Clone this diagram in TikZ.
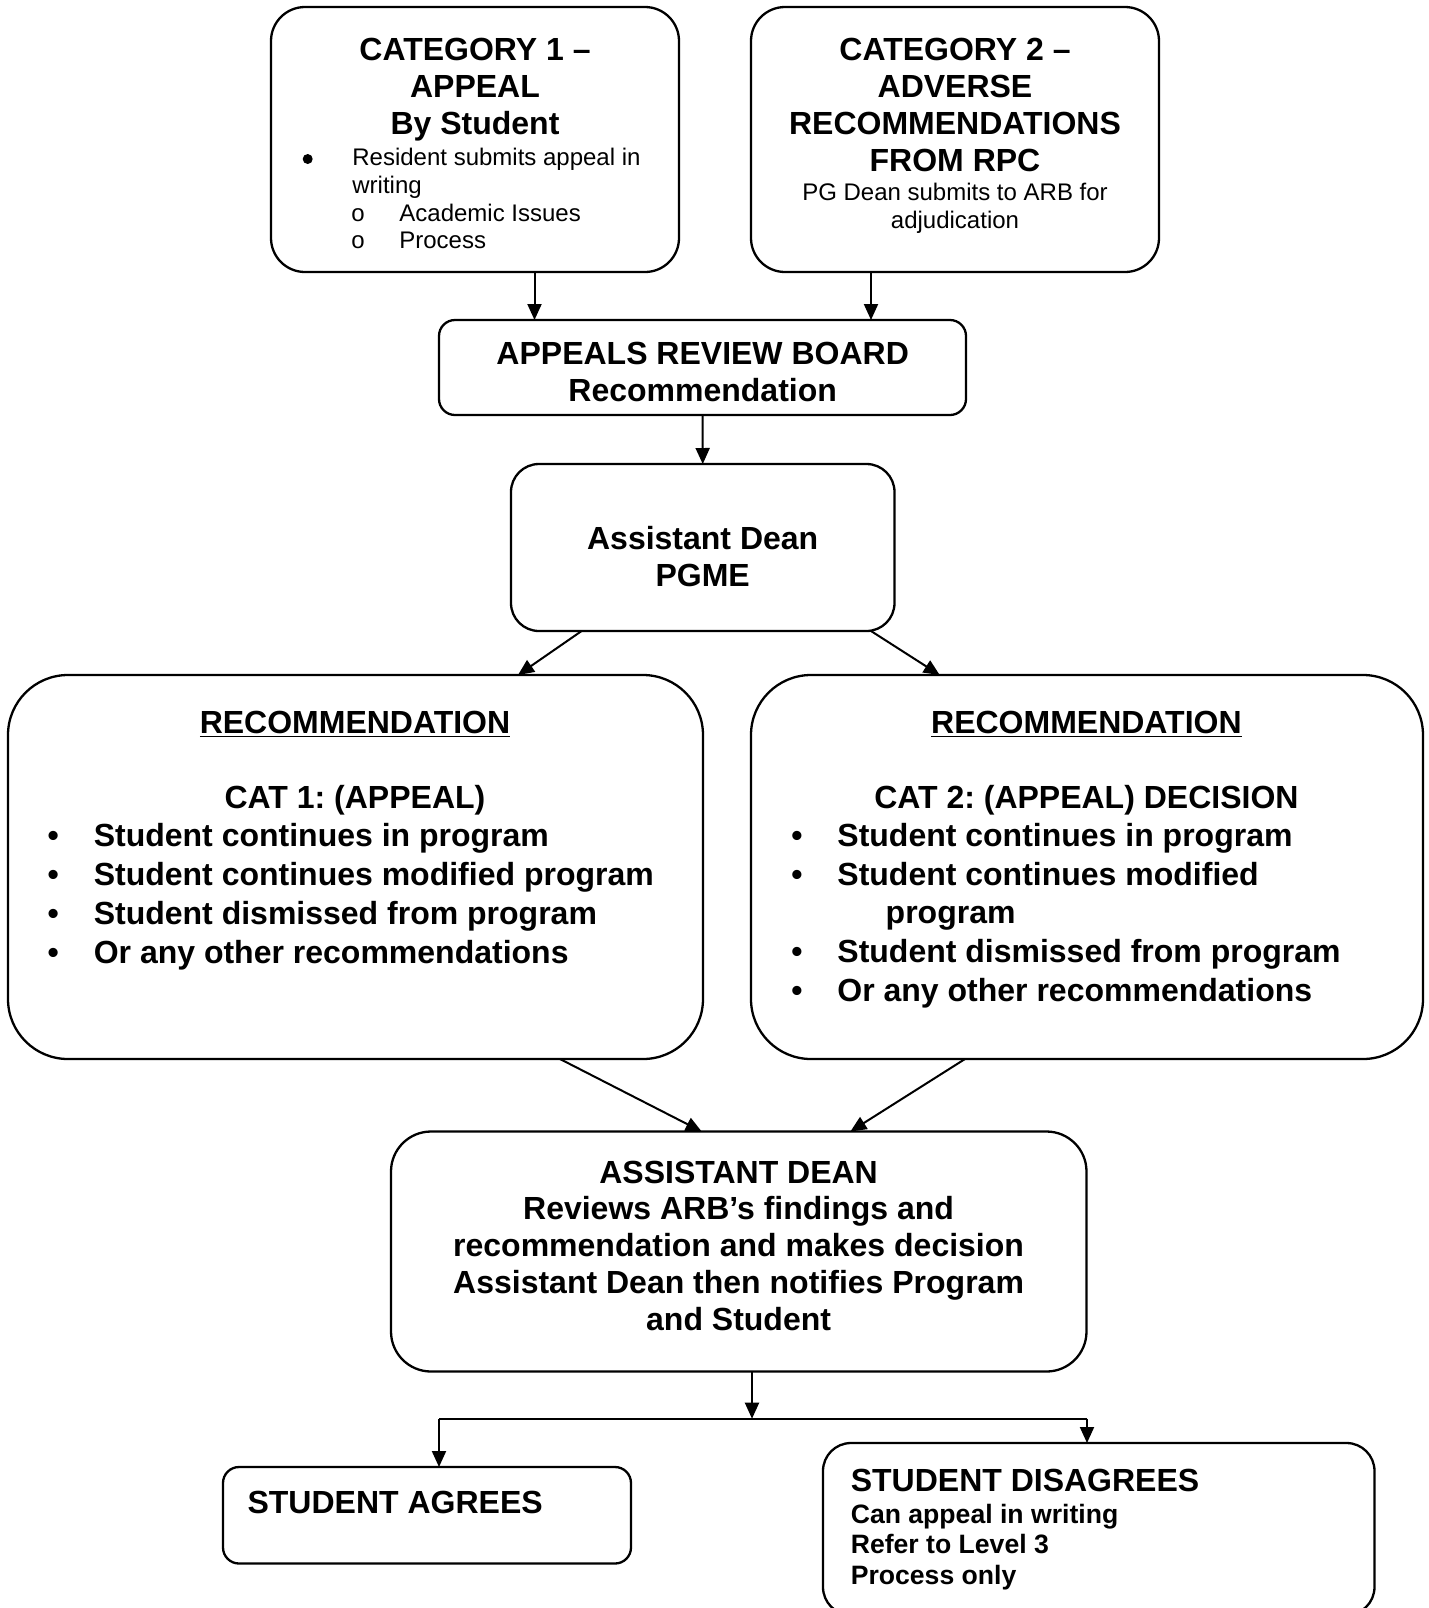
\documentclass[tikz,border=0pt]{standalone}
\usepackage{fontspec}
\setmainfont{Liberation Sans}
\usetikzlibrary{arrows.meta}
\frenchspacing

\begin{document}
\begin{tikzpicture}[x=0.5pt,y=-0.5pt,
  box/.style={draw, line width=1.15pt, inner sep=0pt, outer sep=0pt},
  arr/.style={line width=1pt, -{Triangle[length=8pt,width=7pt]}},
  lnk/.style={line width=1pt},
  big/.style={font=\fontsize{16pt}{18pt}\selectfont\bfseries, inner sep=0pt},
  small/.style={font=\fontsize{12pt}{14pt}\selectfont, inner sep=0pt},
  mid/.style={font=\fontsize{13.3pt}{15pt}\selectfont\bfseries, inner sep=0pt},
  dot/.style={circle, fill, inner sep=0pt, minimum size=5pt},
]
\clip (0,0) rectangle (1429,1608);
\fill[white] (0,0) rectangle (1429,1608);

% ---------- boxes ----------
\node[box, rounded corners=17pt, minimum width=204pt, minimum height=132.5pt] (cat1) at (475,139.5) {};
\node[box, rounded corners=17pt, minimum width=204pt, minimum height=132.5pt] (cat2) at (955,139.5) {};
\node[box, rounded corners=8pt, minimum width=263.5pt, minimum height=47.5pt] (arb) at (702.5,367.5) {};
\node[box, rounded corners=14pt, minimum width=191.75pt, minimum height=83.5pt] (pgme) at (702.75,547.5) {};
\node[box, rounded corners=30pt, minimum width=347.5pt, minimum height=192pt] (recL) at (355.5,867) {};
\node[box, rounded corners=30pt, minimum width=336pt, minimum height=192pt] (recR) at (1087,867) {};
\node[box, rounded corners=20pt, minimum width=347.75pt, minimum height=120pt] (ad) at (738.75,1251.5) {};
\node[box, rounded corners=8pt, minimum width=204pt, minimum height=48.25pt] (agree) at (427,1515.25) {};
\node[box, rounded corners=14pt, minimum width=275.75pt, minimum height=86pt] (disagree) at (1098.75,1529) {};

% ---------- category 1 ----------
\node[big, anchor=base] (c1a) at (475,60.7) {CATEGORY 1 –};
\node[big, anchor=base] (c1b) at (475,97.7) {APPEAL};
\node[big, anchor=base] (c1c) at (475,134.6) {By Student};
\node[dot] (c1d) at (307.7,159) {};
\node[small, anchor=base west] (c1e) at (352,165.6) {Resident submits appeal in};
\node[small, anchor=base west] (c1f) at (352,193.3) {writing};
\node[small, anchor=base] (c1g) at (358,221) {o};
\node[small, anchor=base west] (c1h) at (399,221) {Academic Issues};
\node[small, anchor=base] (c1i) at (358,248.7) {o};
\node[small, anchor=base west] (c1j) at (399,248.7) {Process};

% ---------- category 2 ----------
\node[big, anchor=base] (c2a) at (955,60.7) {CATEGORY 2 –};
\node[big, anchor=base] (c2b) at (955,97.7) {ADVERSE};
\node[big, anchor=base] (c2c) at (955,134.6) {RECOMMENDATIONS};
\node[big, anchor=base] (c2d) at (955,171.5) {FROM RPC};
\node[small, anchor=base] (c2e) at (955,200.4) {PG Dean submits to ARB for};
\node[small, anchor=base] (c2f) at (955,228.1) {adjudication};

% ---------- appeals review board ----------
\node[big, anchor=base] (arba) at (702.7,364.4) {APPEALS REVIEW BOARD};
\node[big, anchor=base] (arbb) at (702.7,401.3) {Recommendation};

% ---------- assistant dean PGME ----------
\node[big, anchor=base] (pga) at (702.7,549) {Assistant Dean};
\node[big, anchor=base] (pgb) at (702.7,586) {PGME};

% ---------- recommendation, category 1 ----------
\node[big, anchor=base] (rla) at (355,733.7) {\underline{RECOMMENDATION}};
\node[big, anchor=base] (rlb) at (355,808.5) {CAT 1: (APPEAL)};
\foreach \y/\t [count=\i] in {846.5/Student continues in program,
    885.5/Student continues modified program,
    924.5/Student dismissed from program,
    963.5/Or any other recommendations}{
  \node[big, anchor=base] (rlbul\i) at (53.3,\y) {•};
  \node[big, anchor=base west] (rlitem\i) at (93.4,\y) {\t};
}

% ---------- recommendation, category 2 ----------
\node[big, anchor=base] (rra) at (1086.4,733.7) {\underline{RECOMMENDATION}};
\node[big, anchor=base] (rrb) at (1086.4,808.5) {CAT 2: (APPEAL) DECISION};
\foreach \y/\t [count=\i] in {846.5/Student continues in program,
    885.5/Student continues modified,
    962.5/Student dismissed from program,
    1001.5/Or any other recommendations}{
  \node[big, anchor=base] (rrbul\i) at (797,\y) {•};
  \node[big, anchor=base west] (rritem\i) at (837,\y) {\t};
}
\node[big, anchor=base west] (rrcont) at (885.3,923.5) {program};

% ---------- assistant dean decision ----------
\node[big, anchor=base] (ada) at (738.6,1183) {ASSISTANT DEAN};
\node[big, anchor=base] (adb) at (738.6,1219.9) {Reviews ARB’s findings and};
\node[big, anchor=base] (adc) at (738.6,1256.9) {recommendation and makes decision};
\node[big, anchor=base] (add) at (738.6,1293.8) {Assistant Dean then notifies Program};
\node[big, anchor=base] (ade) at (738.6,1330.7) {and Student};

% ---------- outcomes ----------
\node[big, anchor=base west] (aga) at (247.2,1513.3) {STUDENT AGREES};
\node[big, anchor=base west] (dsa) at (850.4,1491.8) {STUDENT DISAGREES};
\node[mid, anchor=base west] (dsb) at (850.4,1523.6) {Can appeal in writing};
\node[mid, anchor=base west] (dsc) at (850.4,1553.4) {Refer to Level 3};
\node[mid, anchor=base west] (dsd) at (850.4,1584.2) {Process only};

% ---------- connectors ----------
\coordinate (x1) at (534.5,0);
\coordinate (x2) at (871,0);
\draw[arr] (cat1.south -| x1) -- (arb.north -| x1);
\draw[arr] (cat2.south -| x2) -- (arb.north -| x2);
\draw[arr] (arb.south) -- (pgme.north);

\coordinate (pl1) at (581.6,0);
\coordinate (pl2) at (518,0);
\coordinate (pr1) at (871,0);
\coordinate (pr2) at (939.7,0);
\draw[arr] (pgme.south -| pl1) -- (recL.north -| pl2);
\draw[arr] (pgme.south -| pr1) -- (recR.north -| pr2);

\coordinate (ql1) at (560,0);
\coordinate (ql2) at (701.7,0);
\coordinate (qr1) at (965,0);
\coordinate (qr2) at (850.4,0);
\draw[arr] (recL.south -| ql1) -- (ad.north -| ql2);
\draw[arr] (recR.south -| qr1) -- (ad.north -| qr2);

\coordinate (j) at (752,1418.7);
\coordinate (jl) at (439,1418.7);
\coordinate (jr) at (1087,1418.7);
\draw[arr] (ad.south -| j) -- (j);
\draw[lnk] (jl) -- (jr);
\draw[arr] (jl) -- (agree.north -| jl);
\draw[arr] (jr) -- (disagree.north -| jr);
\end{tikzpicture}
\end{document}
